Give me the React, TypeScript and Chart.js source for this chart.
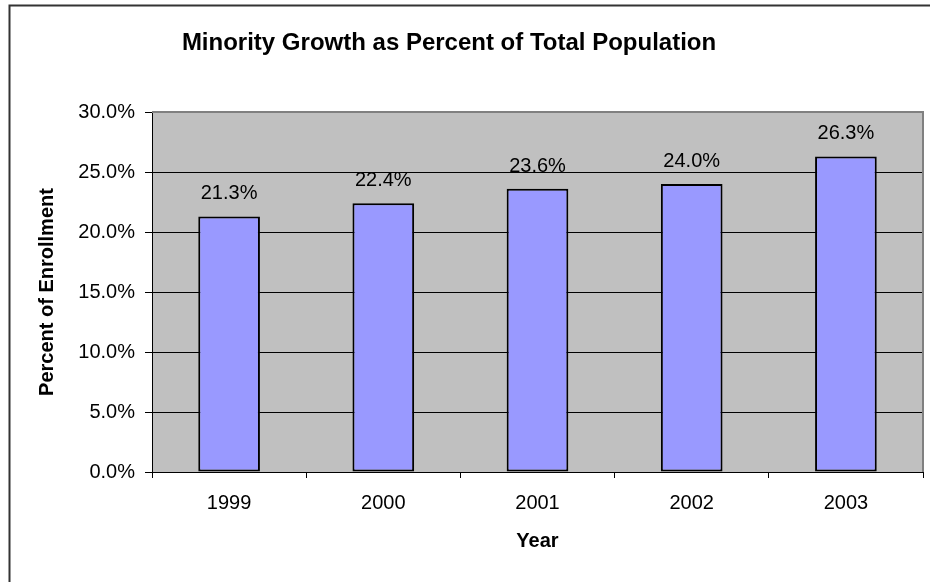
import React, { useEffect, useRef } from 'react';
import { Chart, registerables } from 'chart.js';

Chart.register(...registerables);

const categories = ['1999', '2000', '2001', '2002', '2003'];
const minorityPercent = [21.3, 22.4, 23.6, 24.0, 26.3];
const yTickValues = [0, 5, 10, 15, 20, 25, 30];
const chartTitle = 'Minority Growth as Percent of Total Population';
const yAxisTitle = 'Percent of Enrollment';
const xAxisTitle = 'Year';

const FONT = "'Liberation Sans', Arial, Helvetica, sans-serif";

const decorPlugin = {
  id: 'decor',
  beforeDraw(chart: any) {
    const { ctx, chartArea: a, width, height } = chart;
    ctx.save();
    ctx.fillStyle = '#ffffff';
    ctx.fillRect(0, 0, width, height);
    // outer frame
    ctx.strokeStyle = '#333333';
    ctx.lineWidth = 2;
    ctx.beginPath();
    ctx.moveTo(9.5, height + 4);
    ctx.lineTo(9.5, 5.5);
    ctx.lineTo(width + 4, 5.5);
    ctx.stroke();
    // plot background
    ctx.fillStyle = '#C0C0C0';
    ctx.fillRect(a.left, a.top, a.right - a.left, a.bottom - a.top);
    // title
    ctx.fillStyle = '#000000';
    ctx.font = `bold 24px ${FONT}`;
    ctx.textAlign = 'center';
    ctx.textBaseline = 'alphabetic';
    ctx.fillText(chartTitle, 449, 50);
    ctx.restore();
  },
  afterDatasetsDraw(chart: any) {
    const { ctx, chartArea: a } = chart;
    ctx.save();
    // plot border (top & right)
    ctx.strokeStyle = '#808080';
    ctx.lineWidth = 2;
    ctx.beginPath();
    ctx.moveTo(a.left, a.top);
    ctx.lineTo(a.right, a.top);
    ctx.lineTo(a.right, a.bottom);
    ctx.stroke();
    // data labels
    const meta = chart.getDatasetMeta(0);
    ctx.fillStyle = '#000000';
    ctx.font = `20px ${FONT}`;
    ctx.textAlign = 'center';
    ctx.textBaseline = 'alphabetic';
    meta.data.forEach((bar: any, i: number) => {
      ctx.fillText(minorityPercent[i].toFixed(1) + '%', bar.x, bar.y - 17);
    });
    ctx.restore();
  },
};

export default function App() {
  const canvasRef = useRef<HTMLCanvasElement | null>(null);

  useEffect(() => {
    if (!canvasRef.current) return;
    const chart = new Chart(canvasRef.current, {
      type: 'bar',
      data: {
        labels: categories,
        datasets: [
          {
            label: 'Minority %',
            data: minorityPercent,
            backgroundColor: '#9999FF',
            borderColor: '#000000',
            borderWidth: 2,
            borderSkipped: false,
            barPercentage: 0.4,
            categoryPercentage: 1,
          },
        ],
      },
      options: {
        responsive: false,
        animation: false,
        layout: { padding: { top: 112, right: 7, bottom: 0, left: 0 } },
        plugins: {
          legend: { display: false },
          title: { display: false },
          tooltip: { enabled: false },
        },
        scales: {
          x: {
            afterFit: (s: any) => {
              s.height = 110;
            },
            grid: {
              offset: true,
              drawOnChartArea: false,
              drawTicks: true,
              tickLength: 6,
              tickColor: '#000000',
            },
            border: { color: '#000000', width: 1 },
            ticks: {
              padding: 13,
              color: '#000000',
              maxRotation: 0,
              font: { family: FONT, size: 20 },
            },
            title: {
              display: true,
              text: xAxisTitle,
              color: '#000000',
              font: { family: FONT, size: 20, weight: 'bold' },
              padding: { top: 0, bottom: 29 },
            },
          },
          y: {
            min: 0,
            max: 30,
            afterBuildTicks: (s: any) => {
              s.ticks = yTickValues.map((v) => ({ value: v }));
            },
            afterFit: (s: any) => {
              s.width = 152;
            },
            grid: {
              color: (c: any) =>
                c.tick && c.tick.value === 30 ? 'rgba(0,0,0,0)' : '#000000',
              lineWidth: 1,
              drawTicks: true,
              tickLength: 7,
              tickColor: '#000000',
            },
            border: { color: '#000000', width: 1 },
            ticks: {
              padding: 10,
              color: '#000000',
              font: { family: FONT, size: 20 },
              callback: (v: any) => Number(v).toFixed(1) + '%',
            },
            title: {
              display: true,
              text: yAxisTitle,
              color: '#000000',
              font: { family: FONT, size: 20, weight: 'bold' },
              padding: { top: 35, bottom: 0 },
            },
          },
        },
      },
      plugins: [decorPlugin],
    } as any);
    return () => chart.destroy();
  }, []);

  return (
    <div style={{ position: 'absolute', left: 0, top: 0, width: 930, height: 582 }}>
      <canvas ref={canvasRef} width={930} height={582} style={{ display: 'block' }} />
    </div>
  );
}
